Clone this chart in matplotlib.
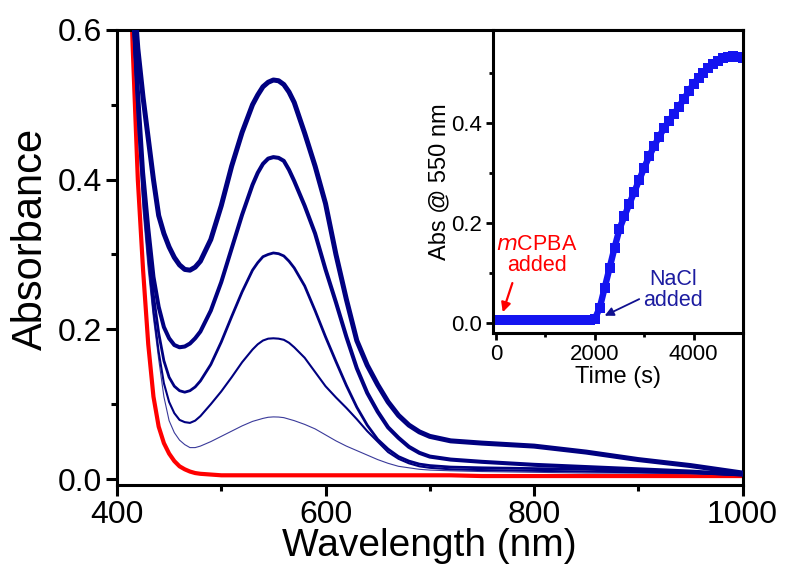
import matplotlib
matplotlib.use('Agg')
import matplotlib.pyplot as plt
from matplotlib.ticker import MultipleLocator, FormatStrFormatter

plt.rcParams.update({
    'font.family': ['Liberation Sans', 'DejaVu Sans'],
    'axes.linewidth': 2.2,
    'xtick.direction': 'out',
    'ytick.direction': 'out',
})

# ── UV-vis spectra ───────────────────────────────────────────────────────────
wl = [405, 410, 415, 420, 425, 430, 435, 440, 445, 450, 455, 460, 465, 470,
      475, 480, 490, 500, 510, 520, 530, 535, 540, 545, 550, 555, 560, 565,
      570, 580, 590, 600, 610, 620, 630, 640, 650, 660, 670, 680, 690, 700,
      720, 750, 800, 850, 900, 950, 1000]

abs_red = [1.0, 0.80, 0.58, 0.40, 0.28, 0.18, 0.11, 0.07, 0.048, 0.034, 0.024,
           0.017, 0.013, 0.010, 0.008, 0.007, 0.006, 0.005, 0.005, 0.005,
           0.005, 0.005, 0.005, 0.005, 0.005, 0.005, 0.005, 0.005, 0.005,
           0.005, 0.005, 0.005, 0.005, 0.005, 0.005, 0.005, 0.005, 0.005,
           0.005, 0.005, 0.005, 0.005, 0.005, 0.004, 0.004, 0.004, 0.004,
           0.004, 0.004]

abs_1 = [1.0, 0.80, 0.60, 0.47, 0.36, 0.28, 0.215, 0.16, 0.11, 0.078, 0.062,
         0.052, 0.046, 0.042, 0.042, 0.044, 0.050, 0.057, 0.064, 0.071, 0.077,
         0.079, 0.081, 0.0825, 0.083, 0.0828, 0.082, 0.080, 0.078, 0.073,
         0.067, 0.059, 0.051, 0.044, 0.038, 0.032, 0.026, 0.021, 0.017, 0.015,
         0.013, 0.012, 0.011, 0.010, 0.009, 0.008, 0.008, 0.007, 0.005]

abs_2 = [1.0, 0.80, 0.62, 0.48, 0.375, 0.295, 0.225, 0.17, 0.128, 0.103,
         0.088, 0.079, 0.076, 0.075, 0.078, 0.084, 0.100, 0.117, 0.136, 0.156,
         0.173, 0.180, 0.185, 0.1875, 0.188, 0.1875, 0.186, 0.182, 0.176,
         0.162, 0.143, 0.124, 0.109, 0.095, 0.080, 0.064, 0.050, 0.036, 0.027,
         0.021, 0.017, 0.015, 0.013, 0.012, 0.011, 0.010, 0.009, 0.008, 0.005]

abs_3 = [1.0, 0.80, 0.63, 0.50, 0.39, 0.31, 0.245, 0.195, 0.158, 0.136,
         0.124, 0.118, 0.116, 0.118, 0.123, 0.131, 0.153, 0.183, 0.217, 0.250,
         0.279, 0.289, 0.297, 0.300, 0.302, 0.301, 0.298, 0.291, 0.282, 0.258,
         0.225, 0.190, 0.157, 0.125, 0.096, 0.072, 0.053, 0.040, 0.030, 0.024,
         0.020, 0.018, 0.016, 0.015, 0.014, 0.013, 0.011, 0.009, 0.006]

abs_4 = [1.0, 0.82, 0.64, 0.52, 0.41, 0.335, 0.27, 0.23, 0.203, 0.188, 0.179,
         0.176, 0.177, 0.181, 0.188, 0.197, 0.225, 0.263, 0.308, 0.353, 0.393,
         0.409, 0.421, 0.428, 0.430, 0.429, 0.425, 0.413, 0.398, 0.365, 0.328,
         0.280, 0.236, 0.190, 0.148, 0.115, 0.090, 0.069, 0.055, 0.043, 0.035,
         0.030, 0.026, 0.023, 0.019, 0.016, 0.013, 0.010, 0.006]

abs_5 = [1.0, 0.84, 0.67, 0.575, 0.51, 0.455, 0.40, 0.352, 0.328, 0.310,
         0.296, 0.286, 0.280, 0.279, 0.283, 0.291, 0.320, 0.365, 0.418, 0.463,
         0.500, 0.513, 0.524, 0.530, 0.533, 0.532, 0.527, 0.517, 0.503, 0.462,
         0.418, 0.368, 0.300, 0.240, 0.185, 0.152, 0.126, 0.103, 0.085, 0.072,
         0.063, 0.057, 0.051, 0.048, 0.044, 0.036, 0.026, 0.018, 0.008]

# ── kinetics at 550 nm ───────────────────────────────────────────────────────
t_s = [0, 100, 200, 300, 400, 500, 600, 700, 800, 900, 1000, 1100, 1200,
       1300, 1400, 1500, 1600, 1700, 1800, 1900, 2000, 2100, 2200, 2300, 2400,
       2500, 2600, 2700, 2800, 2900, 3000, 3100, 3200, 3300, 3400, 3500, 3600,
       3700, 3800, 3900, 4000, 4100, 4200, 4300, 4400, 4500, 4600, 4700, 4800,
       4900, 5000]
abs550 = [0.006, 0.006, 0.005, 0.005, 0.005, 0.005, 0.005, 0.005, 0.005,
          0.005, 0.005, 0.005, 0.005, 0.005, 0.005, 0.005, 0.005, 0.005,
          0.005, 0.005, 0.008, 0.030, 0.070, 0.110, 0.150, 0.188, 0.213,
          0.238, 0.262, 0.286, 0.310, 0.333, 0.353, 0.372, 0.389, 0.404,
          0.417, 0.432, 0.447, 0.463, 0.478, 0.490, 0.500, 0.510, 0.518,
          0.524, 0.529, 0.532, 0.533, 0.532, 0.529]

NAVY = '#000080'

fig = plt.figure(figsize=(7.85, 5.74), dpi=100)
ax = fig.add_axes([0.149, 0.155, 0.797, 0.793])

ax.plot(wl, abs_red, color='#ff0000', lw=3.0, zorder=2)
ax.plot(wl, abs_1, color='#3a3a9a', lw=0.8, zorder=3)
ax.plot(wl, abs_2, color=NAVY, lw=1.5, zorder=3)
ax.plot(wl, abs_3, color=NAVY, lw=2.0, zorder=3)
ax.plot(wl, abs_4, color=NAVY, lw=2.9, zorder=3)
ax.plot(wl, abs_5, color=NAVY, lw=3.6, zorder=3)

ax.set_xlim(400, 1000)
ax.set_ylim(-0.008, 0.6)
ax.xaxis.set_major_locator(MultipleLocator(200))
ax.xaxis.set_minor_locator(MultipleLocator(100))
ax.yaxis.set_major_locator(MultipleLocator(0.2))
ax.yaxis.set_minor_locator(MultipleLocator(0.1))
ax.yaxis.set_major_formatter(FormatStrFormatter('%.1f'))
ax.tick_params(which='major', length=8, width=2.2, labelsize=23, pad=3)
ax.tick_params(which='minor', length=4, width=2.2)
ax.set_xlabel('Wavelength (nm)', fontsize=28)
ax.set_ylabel('Absorbance', fontsize=30)
ax.xaxis.set_label_coords(0.5, -0.094)
ax.yaxis.set_label_coords(-0.105, 0.54)

# ── inset ────────────────────────────────────────────────────────────────────
ins = fig.add_axes([0.628, 0.42, 0.3185, 0.528])
ins.plot(t_s, abs550, color='#1414f0', lw=4.6, marker='s', ms=6.5, mew=0)
ins.set_xlim(-60, 5000)
ins.set_ylim(-0.02, 0.586)
ins.xaxis.set_major_locator(MultipleLocator(2000))
ins.xaxis.set_minor_locator(MultipleLocator(1000))
ins.yaxis.set_major_locator(MultipleLocator(0.2))
ins.yaxis.set_minor_locator(MultipleLocator(0.1))
ins.yaxis.set_major_formatter(FormatStrFormatter('%.1f'))
ins.tick_params(which='major', length=5, width=2, labelsize=16, pad=3)
ins.tick_params(which='minor', length=3, width=2)
ins.set_xlabel('Time (s)', fontsize=17)
ins.set_ylabel('Abs @ 550 nm', fontsize=17)
ins.xaxis.set_label_coords(0.5, -0.11)
ins.yaxis.set_label_coords(-0.17, 0.5)

ins.annotate('', xy=(120, 0.016), xytext=(350, 0.085),
             arrowprops=dict(arrowstyle='-|>', color='#ff0000', lw=1.6,
                             mutation_scale=14))
ins.text(830, 0.135, '$\\mathit{m}$CPBA\nadded', color='#ff0000', fontsize=15.5,
         ha='center', va='center', linespacing=1.0)
ins.annotate('', xy=(2150, 0.012), xytext=(2950, 0.05),
             arrowprops=dict(arrowstyle='-|>', color='#101090', lw=1.3,
                             mutation_scale=13))
ins.text(3590, 0.065, 'NaCl\nadded', color='#1c1ca0', fontsize=15.5,
         ha='center', va='center', linespacing=1.0)

fig.savefig('out.png', dpi=100, facecolor='white')
